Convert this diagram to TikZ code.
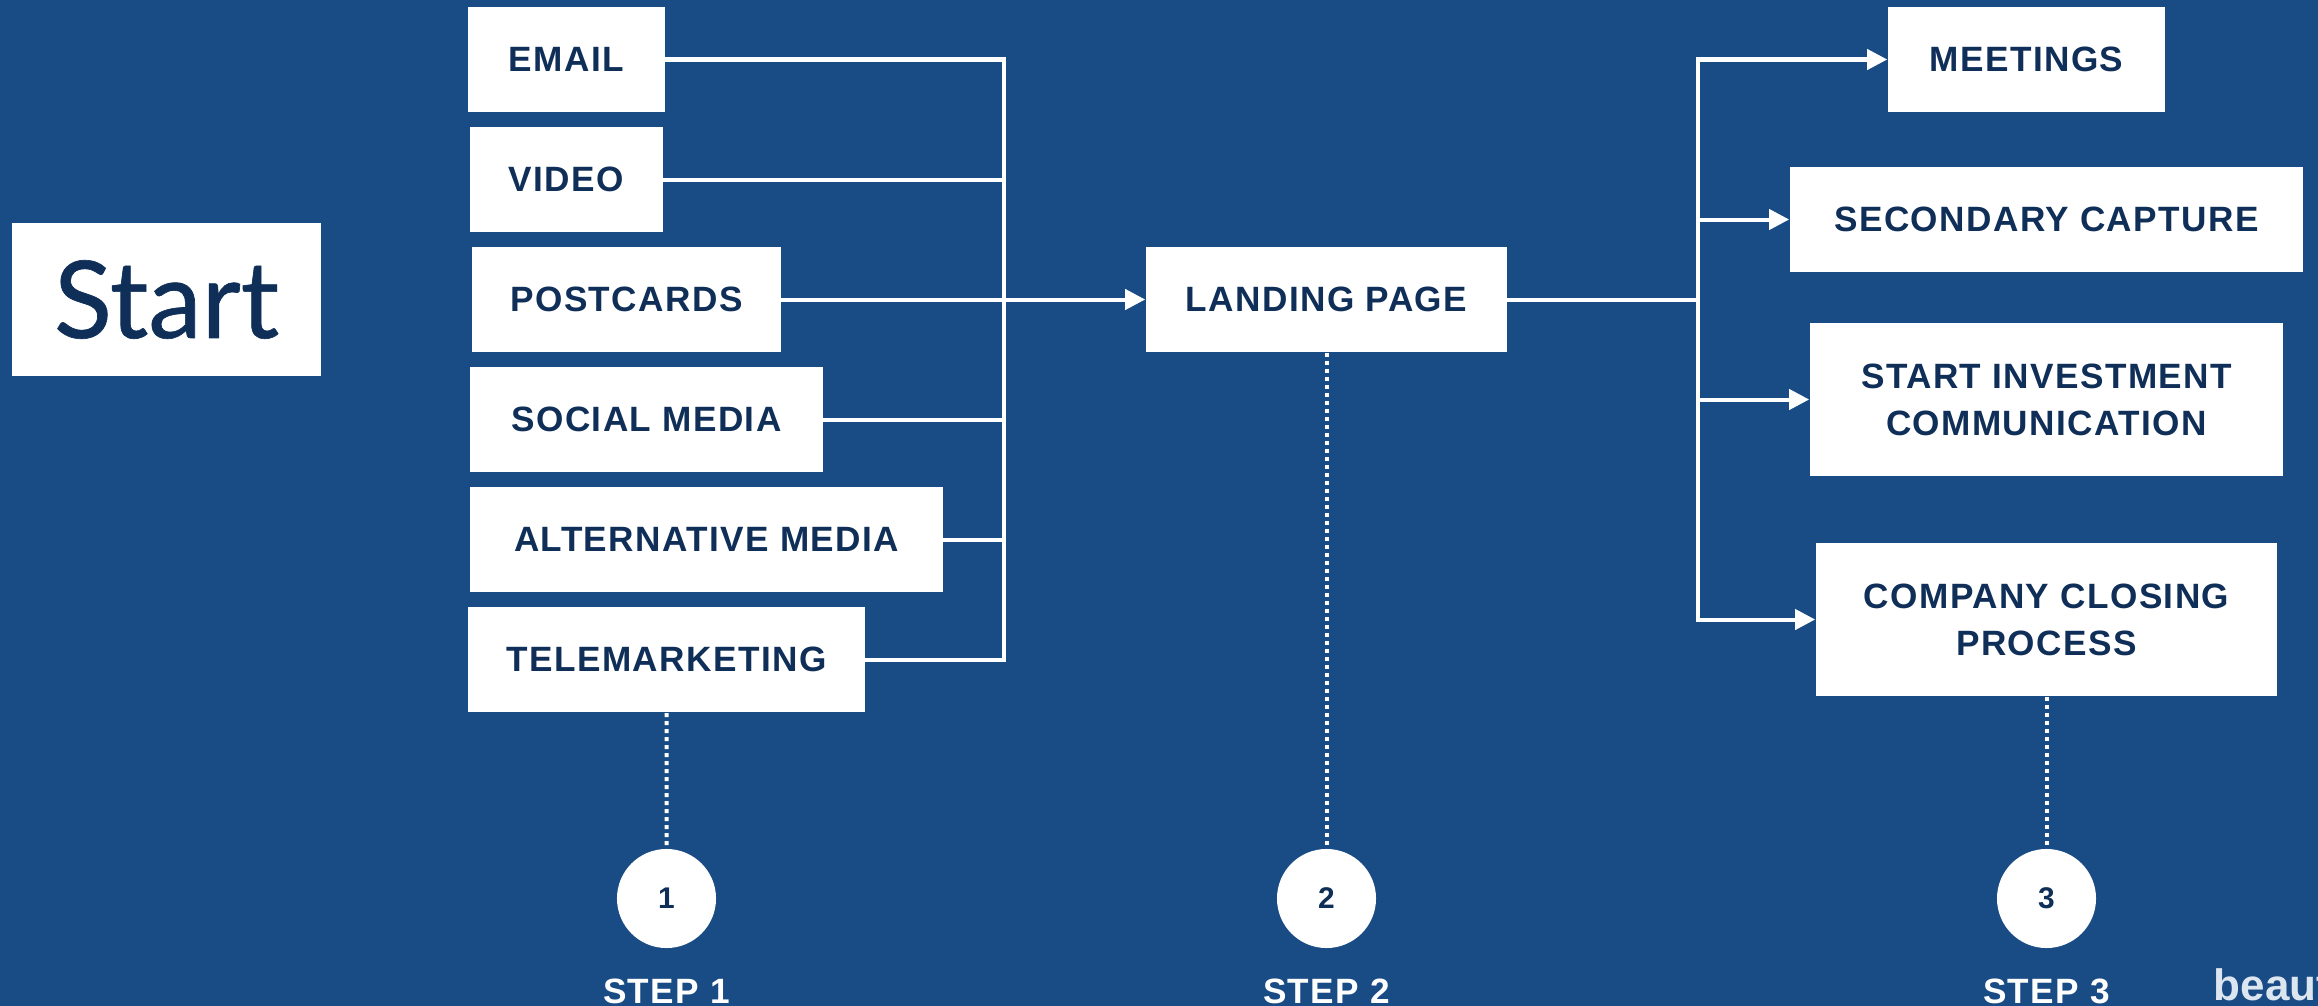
\documentclass[tikz,border=0pt]{standalone}
\usepackage{fontspec}
\setmainfont{Liberation Sans}
\newfontfamily\labelfont[LetterSpace=4]{Liberation Sans}
\newfontfamily\startfont[FakeBold=0.6]{Lato}
\usepackage{tikz}
\usetikzlibrary{positioning, arrows.meta}
\definecolor{bgblue}{RGB}{25,75,132}
\definecolor{navy}{RGB}{15,47,88}
\definecolor{markgrey}{RGB}{220,230,240}
\tikzstyle{box} = [rectangle, fill=white, text=navy, minimum height=1.05cm, inner sep=0pt, text centered, align=center, font=\labelfont\bfseries\fontsize{10}{13.4}\selectfont]
\tikzstyle{tallbox} = [box, minimum height=1.53cm]
\tikzstyle{stepdot} = [circle, fill=white, text=navy, minimum size=0.99cm, inner sep=0pt, font=\bfseries\fontsize{8.5}{10}\selectfont]
\tikzstyle{steplabel} = [text=white, inner sep=0pt, anchor=base, font=\labelfont\bfseries\fontsize{10}{12}\selectfont]
\tikzstyle{link} = [white, line width=0.04cm, line cap=rect]
\tikzstyle{arrow} = [white, line width=0.04cm, -{Triangle[length=0.2cm, width=0.2cm]}]
\tikzstyle{dots} = [white, line width=0.04cm, dash pattern=on 0.04cm off 0.04cm]

\begin{document}
\begin{tikzpicture}[x=0.01cm, y=-0.01cm, node distance=1.2cm]
\fill[bgblue] (0,0) rectangle (2318,1006);
\useasboundingbox (0,0) rectangle (2318,1006);
\clip (0,0) rectangle (2318,1006);

\node (start) [tallbox, minimum width=3.09cm, font=\startfont\fontsize{30.5}{32}\selectfont] at (166.5,299.5) {Start};

% step 1: channels
\node (email) [box, minimum width=1.97cm] at (566.5,59.5) {EMAIL};
\node (video) [box, minimum width=1.93cm, below of=email] {VIDEO};
\node (postcards) [box, minimum width=3.09cm, below of=video, xshift=0.6cm] {POSTCARDS};
\node (social) [box, minimum width=3.53cm, below of=postcards, xshift=0.2cm] {SOCIAL MEDIA};
\node (alt) [box, minimum width=4.73cm, below of=social, xshift=0.6cm] {ALTERNATIVE MEDIA};
\node (tele) [box, minimum width=3.97cm, below of=alt, xshift=-0.4cm] {TELEMARKETING};

% step 2
\node (landing) [box, minimum width=3.61cm] at (1326.5,299.5) {LANDING PAGE};

% step 3: follow up
\node (meetings) [box, minimum width=2.77cm] at (2026.5,59.5) {MEETINGS};
\node (secondary) [box, minimum width=5.13cm] at (2046.5,219.5) {SECONDARY CAPTURE};
\node (invest) [tallbox, minimum width=4.73cm] at (2046.5,399.5) {START INVESTMENT\\COMMUNICATION};
\node (company) [tallbox, minimum width=4.61cm] at (2046.5,619.5) {COMPANY CLOSING\\PROCESS};

\coordinate (busl) at (1004,299.5);
\coordinate (busr) at (1698,299.5);

\foreach \n in {email,video,postcards,social,alt,tele}
  \draw [link] (\n) -- (\n -| busl);
\draw [link] (email -| busl) -- (tele -| busl);
\draw [arrow] (busl) -- (landing);

\draw [link] (landing) -- (busr);
\draw [link] (meetings -| busr) -- (company -| busr);
\foreach \n in {meetings,secondary,invest,company}
  \draw [arrow] (\n -| busr) -- (\n);

% steps
\node (c1) [stepdot] at (666.5,898.5) {1};
\node (c2) [stepdot] at (1326.5,898.5) {2};
\node (c3) [stepdot] at (2046.5,898.5) {3};
\draw [dots] (tele) -- (c1);
\draw [dots] (landing) -- (c2);
\draw [dots] (company) -- (c3);

\node (step1) [steplabel] at (666.5,1003) {STEP 1};
\node (step2) [steplabel] at (1326.5,1003) {STEP 2};
\node (step3) [steplabel] at (2046.5,1003) {STEP 3};

\node (mark) [anchor=base west, inner sep=0pt, text=markgrey, font=\bfseries\fontsize{12.5}{14}\selectfont] at (2213,1000) {beaut};
\end{tikzpicture}
\end{document}
